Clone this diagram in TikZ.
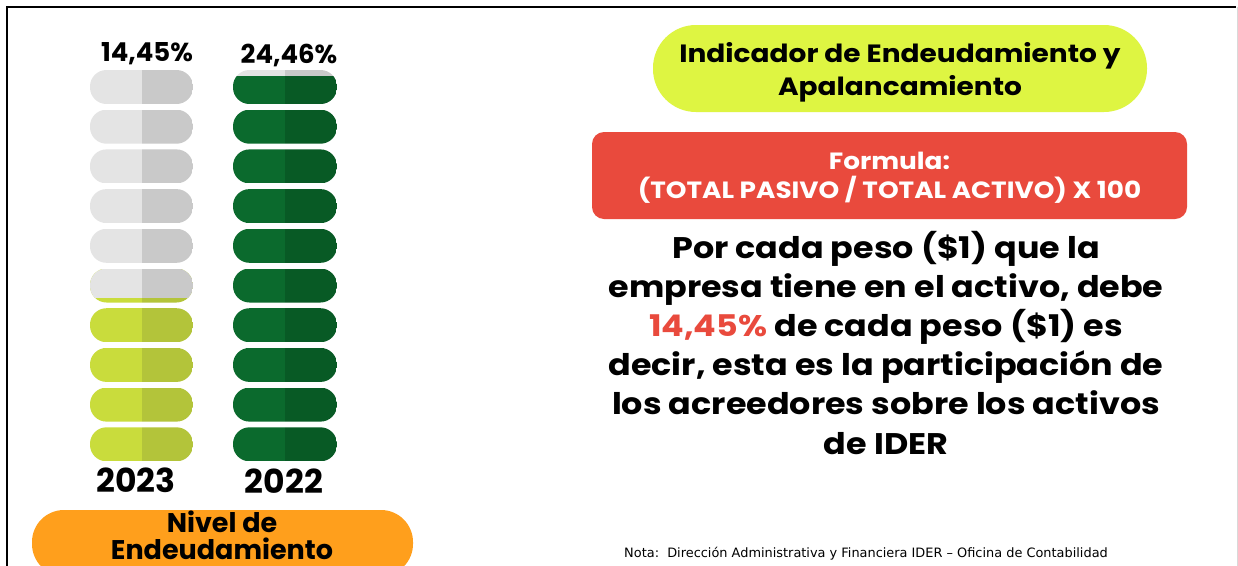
\documentclass[tikz,border=0pt]{standalone}
\usepackage{fontspec}
\setmainfont{Poppins}[BoldFont=* Bold]
\newfontfamily\widef{Poppins}[FakeStretch=1.12, BoldFont=* Bold]
\newfontfamily\notefont{DejaVu Sans}
\definecolor{grayL}{HTML}{E4E4E4}
\definecolor{grayD}{HTML}{C9C9C9}
\definecolor{limeL}{HTML}{C9DC3C}
\definecolor{limeD}{HTML}{B3C43A}
\definecolor{greenL}{HTML}{0B6A2D}
\definecolor{greenD}{HTML}{085A25}
\definecolor{titlelime}{HTML}{DEF542}
\definecolor{formred}{HTML}{E94A3D}
\definecolor{orangeC}{HTML}{FF9F1C}
\newcommand\pillpart[7]{%
  \begin{scope}
    \clip[rounded corners=16.5pt] (#1,#3) rectangle (#2,{#3+34});
    \clip (#1-1,#4) rectangle (#2+1,#5);
    \fill[#6] (#1,#3) rectangle ({(#1+#2)/2},{#3+34});
    \fill[#7] ({(#1+#2)/2},#3) rectangle (#2,{#3+34});
  \end{scope}}
\tikzset{
  lbl/.style={anchor=base, inner sep=0pt, font=\bfseries},
}
\begin{document}
\begin{tikzpicture}[x=1pt,y=-1pt]
\useasboundingbox (0,0) rectangle (1238,565);
\clip (0,0) rectangle (1238,565);
\fill[white] (0,0) rectangle (1238,565);
% frame
\draw[line width=2.2pt, black] (7,580) -- (7,7) -- (1236,7);
\draw[line width=1pt, black!15] (1237,7) -- (1237,580);
% 2023 column
\foreach \i in {0,...,9} {
  \pgfmathsetmacro\t{70+39.7*\i}
  \ifnum\i<5
    \pillpart{90}{193}{\t}{0}{600}{grayL}{grayD}
  \else\ifnum\i=5
    \pillpart{90}{193}{\t}{0}{600}{limeL}{limeD}
    \pillpart{90}{193}{\t}{0}{\t+29}{grayL}{grayD}
  \else
    \pillpart{90}{193}{\t}{0}{600}{limeL}{limeD}
  \fi\fi
}
% 2022 column
\foreach \i in {0,...,9} {
  \pgfmathsetmacro\t{70+39.7*\i}
  \ifnum\i=0
    \pillpart{233}{337}{\t}{0}{600}{grayL}{grayD}
    \pillpart{233}{337}{\t}{\t+6}{600}{greenL}{greenD}
  \else
    \pillpart{233}{337}{\t}{0}{600}{greenL}{greenD}
  \fi
}
\node[lbl, font=\bfseries\fontsize{26}{30}\selectfont] (p23) at (147,61.5) {14,45\%};
\node[lbl, font=\bfseries\fontsize{26}{30}\selectfont] (p22) at (289,63) {24,46\%};
\node[lbl, font=\bfseries\fontsize{33}{38}\selectfont] (y23) at (136,492) {2023};
\node[lbl, font=\bfseries\fontsize{33}{38}\selectfont] (y22) at (284,493) {2022};
% orange label
\fill[orangeC, rounded corners=32pt] (32,510) rectangle (413,576);
\node[lbl, font=\bfseries\fontsize{27}{30}\selectfont] (nv1) at (222,532) {Nivel de};
\node[lbl, font=\bfseries\fontsize{27}{30}\selectfont] (nv2) at (222,559) {Endeudamiento};
% title
\fill[titlelime, rounded corners=43pt] (653,25) rectangle (1147,112);
\node[lbl, font=\widef\bfseries\fontsize{25}{28}\selectfont] (t1) at (900,62) {Indicador de Endeudamiento y};
\node[lbl, font=\widef\bfseries\fontsize{25}{28}\selectfont] (t2) at (900,95) {Apalancamiento};
% formula
\fill[formred, rounded corners=12pt] (592,132) rectangle (1187,219);
\node[lbl, white, font=\widef\bfseries\fontsize{23.5}{26}\selectfont] (f1) at (889.5,169) {Formula:};
\node[lbl, white, font=\widef\bfseries\fontsize{23.5}{26}\selectfont] (f2) at (889.5,198) {(TOTAL PASIVO / TOTAL ACTIVO) X 100};
% main text
\foreach \j/\txt in {0/{Por cada peso (\$1) que la},1/{empresa tiene en el activo, debe},2/{\textcolor{formred}{14,45\%} de cada peso (\$1) es},3/{decir, esta es la participación de},4/{los acreedores sobre los activos},5/{de IDER}} {
  \node[lbl, font=\widef\bfseries\fontsize{29.8}{34}\selectfont] (m\j) at (886,{258+39.2*\j}) {\txt};
}
% note
\node[anchor=base, inner sep=0pt, font=\notefont\fontsize{12.9}{15}\selectfont] (note) at (866,557) {Nota:\ \ Dirección Administrativa y Financiera IDER – Oficina de Contabilidad};
\end{tikzpicture}
\end{document}
